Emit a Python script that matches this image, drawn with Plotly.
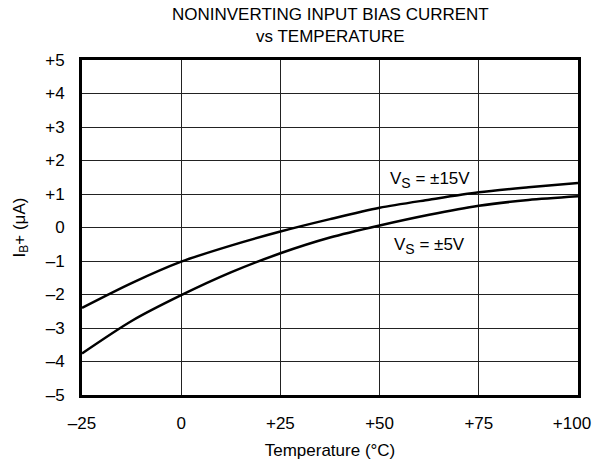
import plotly.graph_objects as go

temps = [-25, -12.5, 0, 12.5, 25, 37.5, 50, 62.5, 75, 87.5, 100]
ib_15v = [-2.40, -1.66, -1.02, -0.54, -0.12, 0.25, 0.59, 0.83, 1.05, 1.20, 1.33]
ib_5v = [-3.76, -2.79, -2.02, -1.34, -0.77, -0.30, 0.06, 0.38, 0.65, 0.82, 0.93]

x_ticks = [-25, 0, 25, 50, 75]
x_ticklabels = ["\u201325", "0", "+25", "+50", "+75"]
x_end_tick = [100]
x_end_label = ["+100"]
y_ticks = [-5, -4, -3, -2, -1, 0, 1, 2, 3, 4, 5]
y_ticklabels = ["\u20135", "\u20134", "\u20133", "\u20132", "\u20131", "0", "+1", "+2", "+3", "+4", "+5"]

title_text = "NONINVERTING INPUT BIAS CURRENT<br>vs TEMPERATURE"
label_15v = "V<sub><span style='font-size:14px'>S</span></sub> = \u00b115V"
label_5v = "V<sub><span style='font-size:14px'>S</span></sub> = \u00b15V"

FONT = "Liberation Sans, Arial, sans-serif"

fig = go.Figure()
for ys in (ib_15v, ib_5v):
    fig.add_trace(go.Scatter(x=temps, y=ys, mode="lines",
                             line=dict(color="black", width=2.5, shape="spline", smoothing=0.8),
                             showlegend=False, hoverinfo="skip"))
# invisible trace to activate the second x axis (carries the +100 label)
fig.add_trace(go.Scatter(x=[temps[0], temps[-1]], y=[ib_15v[0], ib_15v[-1]], xaxis="x2",
                         mode="lines", line=dict(width=0), opacity=0,
                         showlegend=False, hoverinfo="skip"))

fig.add_annotation(x=62.7, y=1.42, text=label_15v, showarrow=False,
                   bgcolor="white", font=dict(size=17, color="black", family=FONT), borderpad=0)
fig.add_annotation(x=62.5, y=-0.56, text=label_5v, showarrow=False,
                   bgcolor="white", font=dict(size=17, color="black", family=FONT), borderpad=0)
fig.add_annotation(x=0.5, xref="paper", y=1, yref="paper", yanchor="bottom", yshift=12,
                   text=title_text, showarrow=False,
                   font=dict(size=17, color="black", family=FONT))

fig.update_layout(
    width=595, height=468,
    margin=dict(l=82, r=17, t=60, b=73),
    paper_bgcolor="white", plot_bgcolor="white",
    font=dict(family=FONT, color="black", size=17),
    xaxis=dict(range=[-25, 100], tickvals=x_ticks + x_end_tick,
               ticktext=x_ticklabels + [""],
               showgrid=True, gridcolor="#222", gridwidth=1,
               showline=True, linecolor="black", linewidth=3, mirror=True,
               zeroline=False, ticks="", ticklabelstandoff=11, ticklabeloverflow="allow",
               automargin=False,
               title=dict(text="Temperature (\u00b0C)", standoff=12, font=dict(size=17))),
    xaxis2=dict(overlaying="x", matches="x", anchor="y", side="bottom",
                tickvals=x_end_tick, ticktext=x_end_label, ticklabelshift=-6,
                showgrid=False, showline=False, zeroline=False, ticks="",
                ticklabelstandoff=16, ticklabeloverflow="allow", automargin=False),
    yaxis=dict(range=[-5, 5], tickvals=y_ticks, ticktext=y_ticklabels,
               showgrid=True, gridcolor="#222", gridwidth=1,
               showline=True, linecolor="black", linewidth=3, mirror=True,
               zeroline=False, ticks="", ticklabelstandoff=11, automargin=False,
               title=dict(text="I<sub>B</sub>+ (\u03bcA)", standoff=16, font=dict(size=17))),
)

fig.write_html("out.html", config={"displayModeBar": False},
               post_script="document.body.style.margin='0';document.body.style.overflow='hidden';")
